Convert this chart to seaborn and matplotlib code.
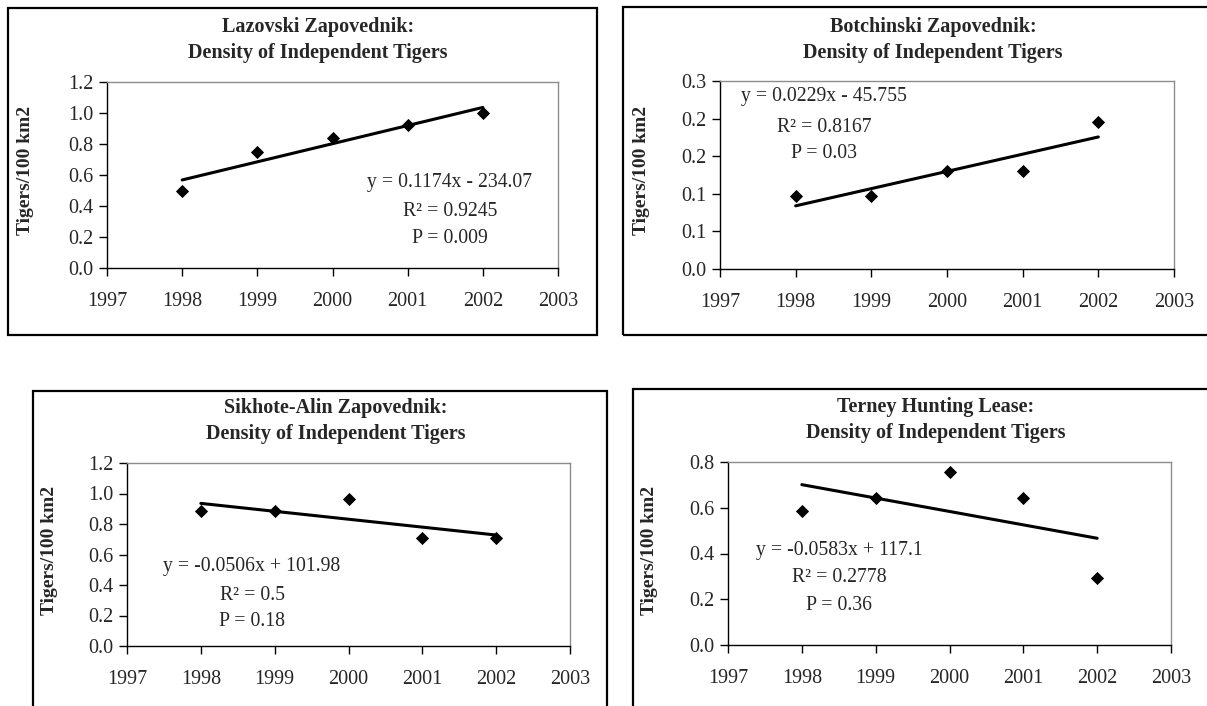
import numpy as np
import matplotlib
matplotlib.use("Agg")
import matplotlib.pyplot as plt
from matplotlib.patches import Rectangle
import seaborn as sns

# data
years = [1998, 1999, 2000, 2001, 2002]
lazovski = [0.50, 0.75, 0.84, 0.92, 1.00]
botchinski = [0.097, 0.097, 0.13, 0.13, 0.195]
sikhote = [0.884, 0.884, 0.967, 0.711, 0.711]
terney = [0.585, 0.643, 0.756, 0.643, 0.292]

titles = ["Lazovski Zapovednik:", "Botchinski Zapovednik:",
          "Sikhote-Alin Zapovednik:", "Terney Hunting Lease:"]
subtitle = "Density of Independent Tigers"
ylabel = "Tigers/100 km2"
x_ticks = [1997, 1998, 1999, 2000, 2001, 2002, 2003]

y_ticks = [
    [0.0, 0.2, 0.4, 0.6, 0.8, 1.0, 1.2],
    [0.0, 0.05, 0.10, 0.15, 0.20, 0.25],
    [0.0, 0.2, 0.4, 0.6, 0.8, 1.0, 1.2],
    [0.0, 0.2, 0.4, 0.6, 0.8],
]
y_ticklabels = [
    ["0.0", "0.2", "0.4", "0.6", "0.8", "1.0", "1.2"],
    ["0.0", "0.1", "0.1", "0.2", "0.2", "0.3"],
    ["0.0", "0.2", "0.4", "0.6", "0.8", "1.0", "1.2"],
    ["0.0", "0.2", "0.4", "0.6", "0.8"],
]
equations = ["y = 0.1174x - 234.07", "y = 0.0229x - 45.755",
             "y = -0.0506x + 101.98", "y = -0.0583x + 117.1"]
r2_text = ["R² = 0.9245", "R² = 0.8167", "R² = 0.5", "R² = 0.2778"]
p_text = ["P = 0.009", "P = 0.03", "P = 0.18", "P = 0.36"]

series = [lazovski, botchinski, sikhote, terney]

sns.set_theme(style="white")
plt.rcParams["font.family"] = ["Liberation Serif", "DejaVu Serif"]

W, H = 1207, 706
fig = plt.figure(figsize=(W / 100, H / 100), dpi=100)


def fx(x):
    return x / W


def fy(y):
    return 1 - y / H


# layout in pixels: chart box, plot area, title centre, ylabel x, text centre + rows
boxes = [(8, 8, 597, 335), (623, 7, 1230, 335), (33, 391, 607, 740), (633, 389, 1230, 740)]
areas = [(107, 82, 558, 268), (720, 81, 1174, 269), (127, 463, 570, 646), (728, 462, 1171, 645)]
title_pos = [(318, 27, 53), (933, 27, 53), (336, 408, 434), (936, 407, 433)]
ylab_pos = [(25, 170), (641, 170), (50, 550), (650, 550)]
text_pos = [(450, (183, 212, 239)), (824, (97, 127, 153)),
            (252, (567, 596, 622)), (839, (551, 578, 606))]

fs = 14.5

for i in range(4):
    bx0, by0, bx1, by1 = boxes[i]
    fig.patches.append(Rectangle((fx(bx0), fy(by1)), fx(bx1 - bx0), (by1 - by0) / H,
                                 transform=fig.transFigure, fill=False,
                                 edgecolor="black", lw=1.6, zorder=0))

    x0, y0, x1, y1 = areas[i]
    ax = fig.add_axes([fx(x0), fy(y1), fx(x1 - x0), (y1 - y0) / H])
    sns.regplot(x=years, y=series[i], ax=ax, ci=None, color="black", marker="D",
                scatter_kws={"s": 45, "linewidths": 0, "alpha": 1},
                line_kws={"lw": 2.2})

    ax.set_xlim(1997, 2003)
    ax.set_ylim(y_ticks[i][0], y_ticks[i][-1])
    ax.set_xticks(x_ticks)
    ax.set_xticklabels([str(t) for t in x_ticks], fontsize=fs)
    ax.set_yticks(y_ticks[i])
    ax.set_yticklabels(y_ticklabels[i], fontsize=fs)
    ax.tick_params(axis="both", direction="out", length=6, width=1, color="black",
                   bottom=True, left=True)
    ax.tick_params(axis="x", pad=11)
    ax.tick_params(axis="y", pad=4)
    for s in ["left", "bottom"]:
        ax.spines[s].set_color("black")
        ax.spines[s].set_linewidth(1.0)
    for s in ["top", "right"]:
        ax.spines[s].set_color("#8c8c8c")
        ax.spines[s].set_linewidth(1.0)
    ax.set_xlabel("")
    ax.set_ylabel("")
    ax.grid(False)

    tx, t1, t2 = title_pos[i]
    fig.text(fx(tx), fy(t1), titles[i], ha="center", va="center",
             fontsize=fs, fontweight="bold")
    fig.text(fx(tx), fy(t2), subtitle, ha="center", va="center",
             fontsize=fs, fontweight="bold")

    lx, ly = ylab_pos[i]
    fig.text(fx(lx), fy(ly), ylabel, ha="center", va="center", rotation=90,
             fontsize=14, fontweight="bold")

    cx, rows = text_pos[i]
    for txt, ry in zip([equations[i], r2_text[i], p_text[i]], rows):
        fig.text(fx(cx), fy(ry), txt, ha="center", va="center", fontsize=14.2)

fig.savefig("out.png", dpi=100, facecolor="white")
